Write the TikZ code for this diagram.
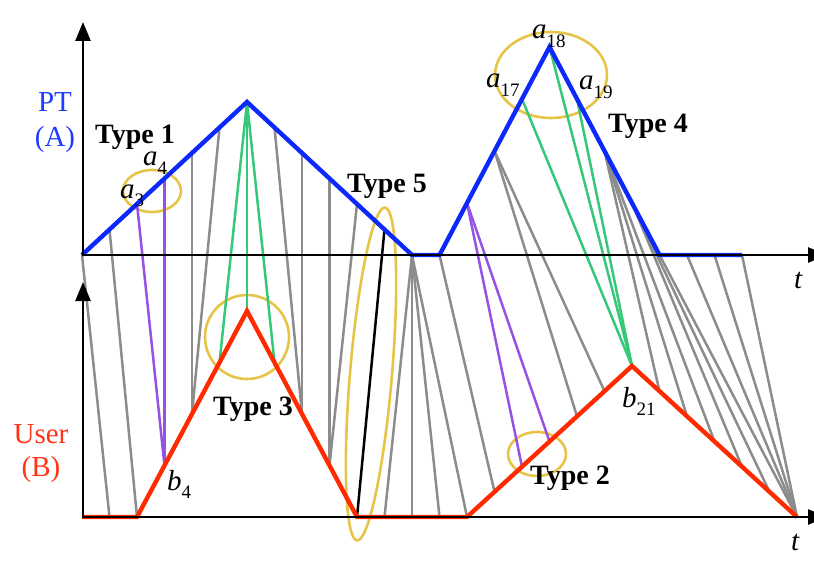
\documentclass[tikz,border=0pt]{standalone}
\usepackage{fontspec}
\setmainfont{Liberation Serif}
\usetikzlibrary{arrows.meta}
\definecolor{cblue}{RGB}{12,40,250}
\definecolor{cred}{RGB}{255,42,0}
\definecolor{cgray}{RGB}{140,140,140}
\definecolor{cgreen}{RGB}{52,200,120}
\definecolor{cpurple}{RGB}{150,82,226}
\definecolor{cgold}{RGB}{230,196,72}
\definecolor{tblue}{RGB}{30,60,255}
\definecolor{tred}{RGB}{255,52,20}
\newcommand{\mylbl}[2]{\textit{#1}\raisebox{-0.3em}{\fontsize{19}{19}\selectfont #2}}
\tikzset{
  link/.style={line width=2.5pt, line cap=round},
  glink/.style={link, cgray},
  plink/.style={link, cpurple},
  grlink/.style={link, cgreen},
  klink/.style={link, black},
  curveA/.style={line width=4.4pt, cblue},
  curveB/.style={line width=4.4pt, cred},
  axis/.style={line width=2.6pt, black, -{Triangle[length=19pt,width=15pt]}},
  ring/.style={line width=2.6pt, cgold},
  typelbl/.style={font=\fontsize{28}{30}\selectfont\bfseries, inner sep=0pt, anchor=base west},
  ptlbl/.style={font=\fontsize{29}{31}\selectfont, inner sep=0pt, anchor=base},
  vlbl/.style={font=\fontsize{29}{31}\selectfont, inner sep=0pt, anchor=base west}
}
\begin{document}
\begin{tikzpicture}[x=1pt, y=-1pt]
\useasboundingbox (0,0) rectangle (814,567);
% sample points of curve A (PT) and curve B (User)
\foreach \i/\yy in {1/255,2/229.5,3/204,4/178.5,5/153,6/127.5,7/102,8/127.5,9/153,10/178.5,11/204,12/229.5,13/255,14/255,15/203,16/151,17/99,18/47,19/99,20/151,21/203,22/255,23/255,24/255,25/255}
  \coordinate (a\i) at ({82+27.5*(\i-1)},\yy);
\foreach \j/\yy in {1/517,2/517,3/517,4/465.5,5/414,6/362.5,7/311,8/362.5,9/414,10/465.5,11/517,12/517,13/517,14/517,15/517,16/491.8,17/466.7,18/441.5,19/416.3,20/391.2,21/366,22/391.2,23/416.3,24/441.5,25/466.7,26/491.8,27/517}
  \coordinate (b\j) at ({82+27.5*(\j-1)},\yy);
% highlight rings
\coordinate (r1) at (152,191);
\coordinate (r5) at (371,374);
\coordinate (r3) at (247,337);
\coordinate (r4) at (551,75);
\coordinate (r2) at (537,454);
\draw[ring] (r1) ellipse [x radius=29pt, y radius=21pt];
\draw[ring, rotate around={85.2:(r5)}] (r5) ellipse [x radius=167pt, y radius=21pt];
\draw[ring] (r3) ellipse [x radius=42pt, y radius=42pt];
\draw[ring] (r4) ellipse [x radius=56pt, y radius=43pt];
\draw[ring] (r2) ellipse [x radius=29pt, y radius=22pt];
% alignment links
\foreach \p/\q in {1/2,2/3,5/5,6/5,8/9,9/9,10/10,11/10,13/12,13/13,13/14,13/15,14/16,16/19,16/20,20/22,20/23,20/24,21/25,21/26,22/27,23/27,24/27,25/27}
  \draw[glink] (a\p) -- (b\q);
\foreach \p/\q in {3/4,4/4,15/17,15/18}
  \draw[plink] (a\p) -- (b\q);
\foreach \p/\q in {7/6,7/7,7/8,17/21,18/21,19/21}
  \draw[grlink] (a\p) -- (b\q);
\draw[klink] (a12) -- (b11);
% curves
\draw[curveA] (a1) -- (a7) -- (a13) -- (a14) -- (a18) -- (a22) -- (a25);
\draw[curveB] (b1) -- (b3) -- (b7) -- (b11) -- (b15) -- (b21) -- (b27);
% axes
\coordinate (o1) at (83,256);
\coordinate (o1y) at (83,22);
\coordinate (o1s) at (81.7,255);
\coordinate (o1x) at (827,255);
\coordinate (o2) at (83,518);
\coordinate (o2y) at (83,282);
\coordinate (o2s) at (81.7,517);
\coordinate (o2x) at (827,517);
\draw[axis] (o1) -- (o1y);
\draw[axis] (o1s) -- (o1x);
\draw[axis] (o2) -- (o2y);
\draw[axis] (o2s) -- (o2x);
% axis labels
\node[ptlbl, tblue] (pt) at (55,112) {PT};
\node[ptlbl, tblue] (ptA) at (55,147) {(A)};
\node[ptlbl, tred] (us) at (41,443) {User};
\node[ptlbl, tred] (usB) at (41,476) {(B)};
\node[vlbl] (t1) at (794,288) {\textit{t}};
\node[vlbl] (t2) at (791,550) {\textit{t}};
% point labels
\node[vlbl] (la3) at (120,198) {\mylbl{a}{3}};
\node[vlbl] (la4) at (143,166) {\mylbl{a}{4}};
\node[vlbl] (la17) at (486,88) {\mylbl{a}{17}};
\node[vlbl] (la18) at (532,39) {\mylbl{a}{18}};
\node[vlbl] (la19) at (579,90) {\mylbl{a}{19}};
\node[vlbl] (lb4) at (167,490) {\mylbl{b}{4}};
\node[vlbl] (lb21) at (622,407) {\mylbl{b}{21}};
% type labels
\node[typelbl] (ty1) at (95,144) {Type 1};
\node[typelbl] (ty5) at (347,193) {Type 5};
\node[typelbl] (ty3) at (213,415) {Type 3};
\node[typelbl] (ty2) at (530,484) {Type 2};
\node[typelbl] (ty4) at (608,133) {Type 4};
\end{tikzpicture}
\end{document}
